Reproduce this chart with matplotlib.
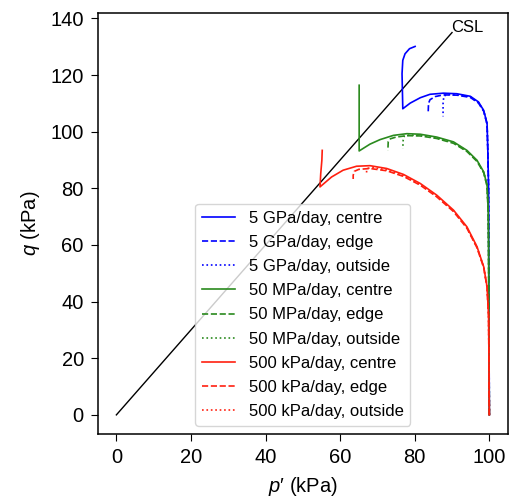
import matplotlib
matplotlib.use("Agg")
import matplotlib.pyplot as plt

plt.rcParams['font.family'] = ['Liberation Sans', 'DejaVu Sans']
plt.rcParams['mathtext.fontset'] = 'custom'
plt.rcParams['mathtext.it'] = 'Liberation Sans:italic'
plt.rcParams['mathtext.rm'] = 'Liberation Sans'

# Critical state line
csl_p = [0, 90]
csl_q = [0, 135]

# 5 GPa/day
blue_centre_p = [100, 99.9, 99.8, 99.6, 99.4, 98.5, 97.1, 94.9, 91.3, 87.7, 84.1, 81.5, 78.8, 76.8, 76.6, 76.8, 77.4, 78.6, 80.1]
blue_centre_q = [0, 40, 80, 93.4, 102.9, 107.5, 110.5, 112.5, 113.4, 113.6, 113.2, 112.0, 110.1, 108.1, 120.5, 125.2, 127.5, 129.3, 130.1]
blue_edge_p = [100, 99.9, 99.8, 99.6, 99.4, 98.5, 97.1, 94.9, 91.3, 87.7, 85.5, 84.1, 83.7, 83.6]
blue_edge_q = [0, 40, 80, 93.2, 102.6, 107.2, 110.1, 112.1, 112.9, 113.0, 112.4, 111.3, 110.0, 106.5]
blue_out_p = [100, 99.9, 99.8, 99.6, 99.4, 98.5, 97.1, 94.9, 91.3, 88.6, 87.8, 87.6, 87.6]
blue_out_q = [0, 40, 80, 93.3, 102.7, 107.3, 110.3, 112.3, 113.1, 113.1, 112.5, 110.0, 105.4]

# 50 MPa/day
green_centre_p = [100, 99.9, 99.8, 99.7, 99.4, 98.5, 96.7, 94.0, 90.4, 85.9, 81.5, 77.9, 74.3, 70.7, 68.0, 65.1, 65.1]
green_centre_q = [0, 30, 60, 72, 81.1, 85.8, 89.9, 93.4, 96.4, 98.1, 99.1, 99.3, 98.7, 97.2, 95.6, 93.2, 116.4]
green_edge_p = [100, 99.9, 99.8, 99.7, 99.4, 98.5, 96.7, 94.0, 90.4, 85.9, 81.5, 77.9, 75.0, 73.5, 72.9, 72.8]
green_edge_q = [0, 30, 60, 72, 80.8, 85.5, 89.5, 93.0, 95.9, 97.6, 98.5, 98.6, 98.1, 97.5, 96.5, 93.4]
green_out_p = [100, 99.9, 99.8, 99.7, 99.4, 98.5, 96.7, 94.0, 90.4, 85.9, 81.5, 78.5, 77.2, 76.9, 76.8]
green_out_q = [0, 30, 60, 72, 80.9, 85.6, 89.7, 93.2, 96.1, 97.8, 98.7, 98.8, 98.4, 97.0, 94.0]

# 500 kPa/day
red_centre_p = [100, 99.9, 99.8, 99.4, 98.5, 96.7, 94.0, 90.4, 85.9, 81.5, 77.0, 72.5, 68.0, 64.4, 60.8, 57.7, 54.6, 54.8, 55.1, 55.2]
red_centre_q = [0, 20, 35, 45.2, 52.3, 59.4, 66.4, 72.3, 77.6, 81.7, 84.9, 87.0, 88.0, 87.8, 86.4, 84.0, 80.5, 85.2, 89.9, 93.4]
red_edge_p = [100, 99.9, 99.8, 99.4, 98.5, 96.7, 94.0, 90.4, 85.9, 81.5, 77.0, 72.5, 68.0, 65.0, 63.8, 63.5, 63.5]
red_edge_q = [0, 20, 35, 45.0, 52.0, 59.0, 65.9, 71.8, 77.0, 81.1, 84.2, 86.2, 87.0, 86.7, 86.0, 84.6, 83.3]
red_out_p = [100, 99.9, 99.8, 99.4, 98.5, 96.7, 94.0, 90.4, 85.9, 81.5, 77.0, 72.5, 69.0, 67.5, 67.1, 67.1]
red_out_q = [0, 20, 35, 45.1, 52.1, 59.2, 66.1, 72.0, 77.2, 81.3, 84.5, 86.5, 87.3, 87.1, 86.2, 85.2]

labels = ['5 GPa/day, centre', '5 GPa/day, edge', '5 GPa/day, outside',
          '50 MPa/day, centre', '50 MPa/day, edge', '50 MPa/day, outside',
          '500 kPa/day, centre', '500 kPa/day, edge', '500 kPa/day, outside']

fig = plt.figure(figsize=(5.10, 4.98), dpi=100)
ax = fig.add_axes([0.1916, 0.1285, 0.996 - 0.1916, 0.973 - 0.1285])

ax.plot(csl_p, csl_q, color='black', lw=1.0)
ax.text(89.8, 134.3, 'CSL', fontsize=12, ha='left', va='bottom')

lw = 1.2
blue = '#0000ff'
green = '#2a8a1e'
red = '#ff2010'
ax.plot(blue_centre_p, blue_centre_q, color=blue, ls='-', lw=lw, label=labels[0])
ax.plot(blue_edge_p, blue_edge_q, color=blue, ls='--', lw=lw, label=labels[1])
ax.plot(blue_out_p, blue_out_q, color=blue, ls=':', lw=lw, label=labels[2])
ax.plot(green_centre_p, green_centre_q, color=green, ls='-', lw=lw, label=labels[3])
ax.plot(green_edge_p, green_edge_q, color=green, ls='--', lw=lw, label=labels[4])
ax.plot(green_out_p, green_out_q, color=green, ls=':', lw=lw, label=labels[5])
ax.plot(red_centre_p, red_centre_q, color=red, ls='-', lw=lw, label=labels[6])
ax.plot(red_edge_p, red_edge_q, color=red, ls='--', lw=lw, label=labels[7])
ax.plot(red_out_p, red_out_q, color=red, ls=':', lw=lw, label=labels[8])

ax.set_xlim(-5, 105)
ax.set_ylim(-6.75, 141.75)
ax.set_xticks([0, 20, 40, 60, 80, 100])
ax.set_yticks([0, 20, 40, 60, 80, 100, 120, 140])
ax.tick_params(labelsize=14.5, length=5, pad=5)
for s in ax.spines.values():
    s.set_linewidth(1.1)
ax.set_xlabel("$p$\u2032 (kPa)", fontsize=14.5, labelpad=6)
ax.set_ylabel(r"$q$ (kPa)", fontsize=14.5, labelpad=6)
ax.legend(loc='lower center', fontsize=12, labelspacing=0.55)

fig.savefig('out.png', dpi=100)
